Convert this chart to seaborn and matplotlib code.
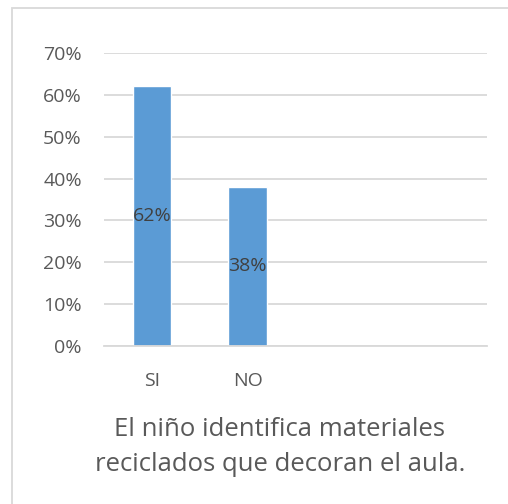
import pandas as pd
import matplotlib.pyplot as plt
import seaborn as sns
from matplotlib.patches import Rectangle

# Data
categories = ["SI", "NO"]
values = [0.62, 0.38]
yticks = [0, 0.1, 0.2, 0.3, 0.4, 0.5, 0.6, 0.7]
title = "El niño identifica materiales\nreciclados que decoran el aula."

df = pd.DataFrame({"Respuesta": categories, "Porcentaje": values})

sns.set_style("white")
plt.rcParams["font.family"] = ["Open Sans", "DejaVu Sans"]

fig = plt.figure(figsize=(5.08, 5.04), dpi=100)
ax = fig.add_axes([104 / 508, (504 - 346) / 504, 383 / 508, 293 / 504])

sns.barplot(x="Respuesta", y="Porcentaje", data=df, color="#5B9BD5",
            saturation=1, width=0.4, ax=ax)
ax.set_xlim(-0.5, 3.5)
ax.set_ylim(0, 0.7)
ax.set_yticks(yticks)
ax.set_yticklabels([f"{int(round(t * 100))}%" for t in yticks])
ax.yaxis.grid(True, color="#D9D9D9", linewidth=1.3)
ax.set_axisbelow(True)
for s in ["top", "right", "left"]:
    ax.spines[s].set_visible(False)
ax.spines["bottom"].set_color("#D9D9D9")
ax.spines["bottom"].set_linewidth(1.3)
ax.tick_params(axis="y", length=0, pad=16, labelsize=14, labelcolor="#595959")
ax.tick_params(axis="x", length=0, pad=19, labelsize=14, labelcolor="#595959")
ax.set_xlabel("")
ax.set_ylabel("")

ax.bar_label(ax.containers[0], labels=[f"{int(round(v * 100))}%" for v in values],
             label_type="center", fontsize=14, color="#404040")

fig.text(280 / 508, 1 - 447 / 504, title, ha="center", va="center",
         fontsize=18.5, color="#595959", linespacing=1.5)

# outer chart border
fig.patches.append(Rectangle((12 / 508, -0.1), 1.1, 1 - 8 / 504 + 0.1,
                             transform=fig.transFigure, fill=False,
                             edgecolor="#D9D9D9", linewidth=1.3))

fig.savefig("out.png", dpi=100)
